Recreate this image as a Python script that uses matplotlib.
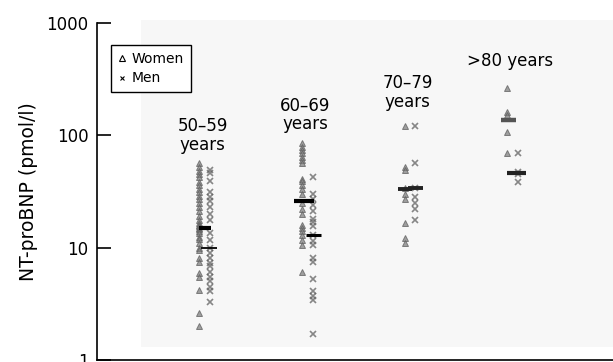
"""
NT-proBNP by age group, women vs men (log scale), with median bars.
"""

import matplotlib
matplotlib.use("Agg")
import matplotlib.pyplot as plt
from matplotlib.lines import Line2D
from matplotlib.patches import Rectangle


# ---------- Data ----------
groups = ["50–59\nyears", "60–69\nyears", "70–79\nyears", ">80 years"]

women = [
    [56, 52, 48, 45, 42, 38, 36, 33, 31, 29, 27, 25, 23, 21, 19, 17.5, 16.5, 16,
     15.5, 15, 14.5, 14, 13.5, 12.5, 12, 11, 10, 9.5, 8, 7.5, 6, 5.5, 4.2, 2.6, 2.0],
    [85, 79, 74, 69, 64, 60, 56, 41, 39, 36, 33, 30, 25, 22, 20, 16, 14.9, 13.9,
     13, 11.7, 10.6, 6.1],
    [121, 52, 49, 34, 30, 27, 16.5, 12.1, 10.9],
    [260, 160, 150, 107, 69],
]
men = [
    [49, 46, 39, 31, 28, 26, 23, 20, 17.7, 13.4, 11.7, 9.9, 8.9, 8.0, 7.3, 6.8,
     6.1, 5.5, 5.0, 4.5, 4.1, 3.3],
    [42, 30, 27, 24, 21, 18, 17, 15.5, 13, 11.5, 10.5, 8, 7.5, 5.3, 4.1, 3.7,
     3.4, 1.7],
    [121, 57, 34, 28, 25, 22, 17.7],
    [69, 47, 45, 38],
]
women_median = [15, 26, 33, 137]
men_median = [10, 13, 34, 46]

y_ticks = [1, 10, 100, 1000]


# ---------- Figure ----------
fig = plt.figure(figsize=(6.13, 3.62), dpi=100)
plt.rcParams["font.family"] = ["DejaVu Sans"]

ax = fig.add_axes([97 / 613, 2 / 362, 1 - 97 / 613, 337.3 / 362])
ax.set_facecolor("none")
ax.set_yscale("log")
ax.set_ylim(1, 1000)
ax.set_xlim(-0.05, 4.98)

# light grey plotting panel behind the data (placed in figure pixels)
ax.add_patch(Rectangle((141 / 613, 1 - 347 / 362), 1 - 141 / 613, 327 / 362,
                       transform=fig.transFigure, facecolor="#f7f7f7",
                       edgecolor="none", zorder=0, clip_on=False))

off = 0.052
for i in range(len(groups)):
    xw = i + 1 - off
    xm = i + 1 + off
    ax.plot([xw] * len(women[i]), women[i], ls="none", marker="^", ms=4,
            mfc="#808080", mec="#606060", mew=0.7, alpha=0.75, zorder=2)
    ax.plot([xm] * len(men[i]), men[i], ls="none", marker="x", ms=4,
            mec="#606060", mew=1.2, alpha=0.75, zorder=2)

# median bars
ax.hlines(women_median[0], 0.94, 1.06, colors="black", lw=3, zorder=3)
ax.hlines(men_median[0], 0.96, 1.12, colors="black", lw=1.3, zorder=3)
ax.hlines(women_median[1], 1.87, 2.07, colors="black", lw=3, zorder=3)
ax.hlines(men_median[1], 1.99, 2.13, colors="black", lw=2.2, zorder=3)
ax.hlines(women_median[2], 2.88, 3.02, colors="#222222", lw=2.8, zorder=3)
ax.hlines(men_median[2], 2.98, 3.13, colors="#222222", lw=2.8, zorder=3)
ax.hlines(women_median[3], 3.89, 4.03, colors="#555555", lw=3.2, zorder=3)
ax.hlines(men_median[3], 3.95, 4.13, colors="#222222", lw=3, zorder=3)

# group labels
label_y = [68, 104, 165, 380]
for i, g in enumerate(groups):
    ax.text(i + 1 - 0.02, label_y[i], g, ha="center", va="bottom",
            fontsize=12, linespacing=1.05, zorder=4)

# axes styling
ax.set_yticks(y_ticks)
ax.set_yticklabels([str(t) for t in y_ticks])
ax.minorticks_off()
ax.tick_params(axis="y", direction="in", length=10, width=1.2, labelsize=12, pad=6)
ax.set_xticks([])
ax.spines["top"].set_visible(False)
ax.spines["right"].set_visible(False)
ax.spines["left"].set_linewidth(1.2)
ax.spines["bottom"].set_linewidth(1.2)
ax.set_ylabel("NT-proBNP (pmol/l)", fontsize=13.5, labelpad=6)

handles = [
    Line2D([], [], ls="none", marker="^", ms=4, mfc="none", mec="black", mew=0.8),
    Line2D([], [], ls="none", marker="x", ms=3.5, mec="black", mew=0.8),
]
leg = ax.legend(handles, ["Women", "Men"], loc="upper left",
                bbox_to_anchor=(111 / 613, 1 - 45 / 362), bbox_transform=fig.transFigure,
                fontsize=10, frameon=True, fancybox=False, edgecolor="black",
                framealpha=1, handlelength=0.6, handletextpad=0.4, borderpad=0.5,
                labelspacing=0.4, borderaxespad=0)
leg.set_zorder(5)

fig.savefig("out.png", dpi=100)
